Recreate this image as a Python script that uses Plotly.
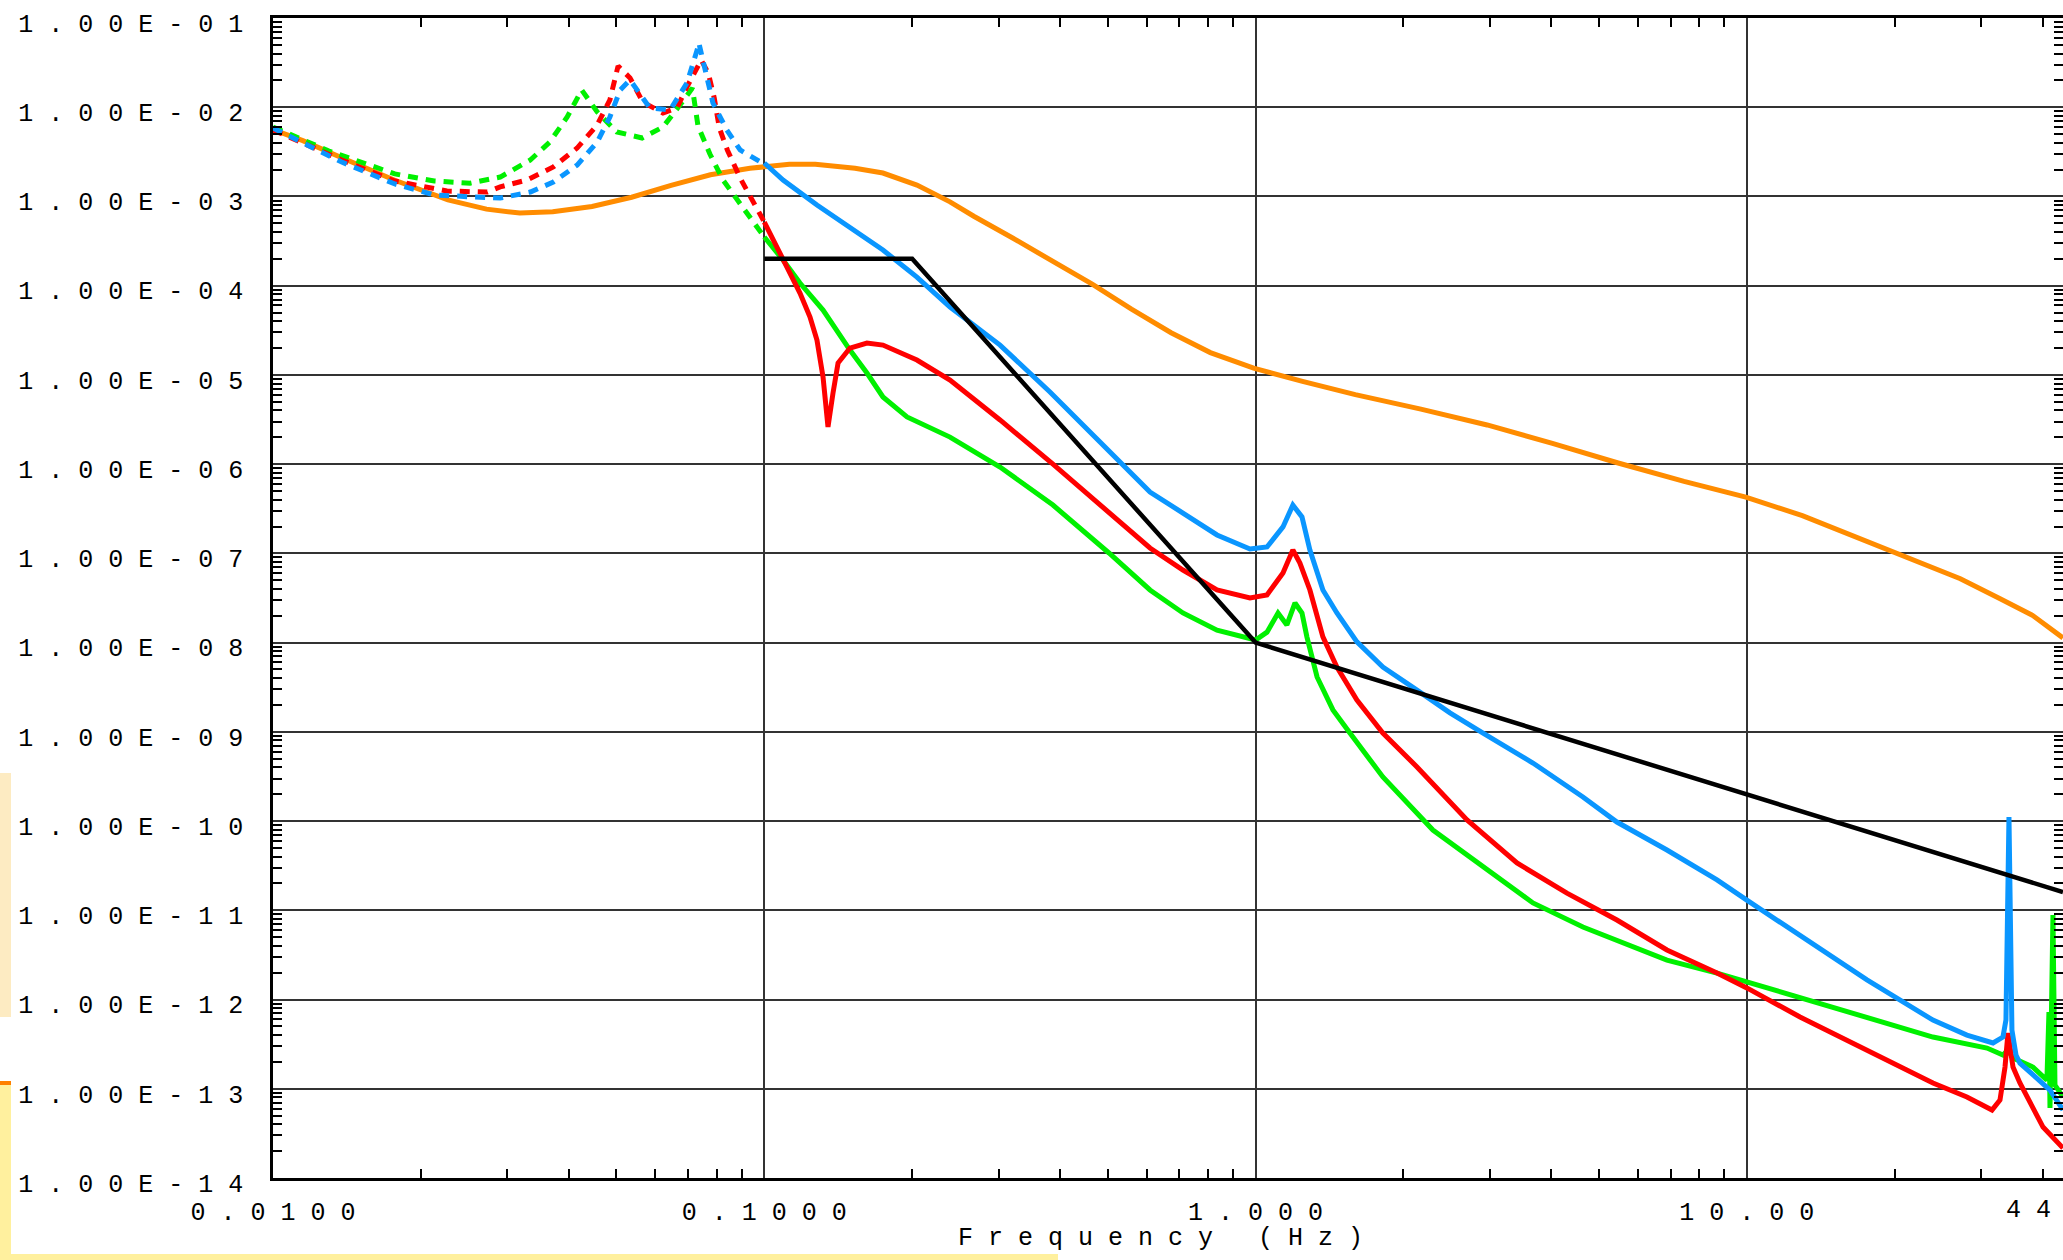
import plotly.graph_objects as go

# ---------------- data ----------------
orange_freq = [0.01, 0.0115, 0.0138, 0.0177, 0.0227, 0.0272, 0.0318, 0.0371, 0.0446, 0.0537,
               0.0646, 0.0777, 0.0935, 0.1125, 0.127, 0.153, 0.1744, 0.2045, 0.2388, 0.267,
               0.321, 0.386, 0.465, 0.559, 0.673, 0.809, 0.991, 1.246, 1.596, 2.17,
               2.96, 4.02, 5.47, 7.45, 9.95, 12.97, 16.6, 21.2, 27.2, 32.7, 38.2, 44.0]
orange_amp = [5.6e-3, 4.22e-3, 2.71e-3, 1.52e-3, 9.14e-4, 7.21e-4, 6.51e-4, 6.74e-4, 7.73e-4, 9.8e-4,
              1.33e-3, 1.75e-3, 2.07e-3, 2.29e-3, 2.29e-3, 2.07e-3, 1.83e-3, 1.34e-3, 8.7e-4, 6.0e-4,
              3.4e-4, 1.9e-4, 1.04e-4, 5.47e-5, 2.97e-5, 1.78e-5, 1.19e-5, 8.45e-6, 6.02e-6, 4.14e-6,
              2.75e-6, 1.71e-6, 1.03e-6, 6.41e-7, 4.27e-7, 2.65e-7, 1.54e-7, 8.94e-8, 5.2e-8, 3.12e-8, 2.01e-8, 1.13e-8]

black_freq = [0.1, 0.2, 1.0, 44.0]
black_amp = [2.0e-4, 2.0e-4, 1.0e-8, 1.6e-11]

blue_low_freq = [0.01, 0.0138, 0.0177, 0.0213, 0.0257, 0.029, 0.0334, 0.0372, 0.0416, 0.0457,
                 0.0485, 0.0509, 0.0533, 0.0551, 0.0585, 0.0643, 0.0696, 0.073, 0.0736, 0.0764,
                 0.0786, 0.0839, 0.0893, 0.1]
blue_low_amp = [5.85e-3, 2.43e-3, 1.38e-3, 1.04e-3, 9.86e-4, 9.61e-4, 1.12e-3, 1.45e-3, 2.25e-3, 4.08e-3,
                7.77e-3, 1.56e-2, 2.02e-2, 1.56e-2, 9.8e-3, 9.31e-3, 1.87e-2, 4.38e-2, 5.25e-2, 2.18e-2,
                1.12e-2, 5.56e-3, 3.32e-3, 2.3e-3]

blue_high_freq = [0.1, 0.1092, 0.128, 0.1494, 0.1744, 0.2045, 0.2388, 0.3019, 0.3815, 0.4823,
                  0.6097, 0.7115, 0.8346, 0.9741, 1.055, 1.137, 1.191, 1.243, 1.29, 1.371,
                  1.464, 1.608, 1.816, 2.131, 2.487, 2.904, 3.669, 4.638, 5.439, 6.876,
                  8.695, 10.0, 12.83, 17.56, 23.92, 28.05, 31.7, 33.21, 33.68, 34.16,
                  34.64, 35.3, 35.96, 38.22, 41.4, 44.0]
blue_high_amp = [2.37e-3, 1.53e-3, 8.02e-4, 4.55e-4, 2.51e-4, 1.25e-4, 5.77e-5, 2.16e-5, 6.43e-6, 1.77e-6,
                 4.87e-7, 2.83e-7, 1.61e-7, 1.12e-7, 1.18e-7, 1.98e-7, 3.48e-7, 2.56e-7, 1.09e-7, 3.89e-8,
                 2.15e-8, 1.02e-8, 5.33e-9, 2.94e-9, 1.63e-9, 9.7e-10, 4.47e-10, 1.86e-10, 9.76e-11, 4.74e-11,
                 2.19e-11, 1.3e-11, 5.15e-12, 1.66e-12, 5.89e-13, 4.0e-13, 3.26e-13, 3.8e-13, 5.89e-13, 1.11e-10,
                 4.55e-13, 2.39e-13, 1.94e-13, 1.43e-13, 9.68e-14, 5.78e-14]

red_low_freq = [0.01, 0.0138, 0.0177, 0.0226, 0.0273, 0.029, 0.0329, 0.0372, 0.0416, 0.0457,
                0.0485, 0.0504, 0.0533, 0.0566, 0.0622, 0.0664, 0.0696, 0.0744, 0.0769, 0.0791,
                0.081, 0.0841, 0.0893, 0.094, 0.1]
red_low_amp = [5.56e-3, 2.56e-3, 1.49e-3, 1.15e-3, 1.12e-3, 1.28e-3, 1.53e-3, 2.14e-3, 3.49e-3, 6.32e-3,
               1.21e-2, 2.9e-2, 2.13e-2, 1.14e-2, 8.62e-3, 9.8e-3, 1.69e-2, 3.38e-2, 2.42e-2, 1.27e-2,
               5.85e-3, 3.32e-3, 1.61e-3, 9.61e-4, 5.17e-4]

red_high_freq = [0.1, 0.1061, 0.1128, 0.1182, 0.1239, 0.128, 0.1317, 0.1348, 0.138, 0.1413,
                 0.1494, 0.1618, 0.1744, 0.2045, 0.2388, 0.3019, 0.3869, 0.4823, 0.6097, 0.7115,
                 0.8346, 0.9741, 1.055, 1.137, 1.191, 1.231, 1.29, 1.371, 1.464, 1.608,
                 1.816, 2.131, 2.694, 3.405, 4.303, 5.439, 6.876, 8.695, 10.0, 12.83,
                 17.56, 23.92, 28.05, 31.55, 32.75, 33.53, 34.0, 34.81, 35.96, 38.22,
                 40.07, 44.0]
red_high_amp = [5.17e-4, 2.71e-4, 1.39e-4, 8.28e-5, 4.46e-5, 2.46e-5, 9.48e-6, 2.61e-6, 6.27e-6, 1.36e-5,
                2.0e-5, 2.28e-5, 2.16e-5, 1.47e-5, 8.77e-6, 3.13e-6, 1.0e-6, 3.48e-7, 1.15e-7, 6.51e-8,
                3.89e-8, 3.16e-8, 3.42e-8, 6.03e-8, 1.09e-7, 7.8e-8, 3.89e-8, 1.16e-8, 5.33e-9, 2.27e-9,
                9.7e-10, 4.04e-10, 1.03e-10, 3.39e-11, 1.56e-11, 7.78e-12, 3.59e-12, 1.98e-12, 1.35e-12, 6.37e-13,
                2.72e-13, 1.16e-13, 8.08e-14, 5.78e-14, 7.48e-14, 1.75e-13, 4.21e-13, 1.75e-13, 1.16e-13, 6.24e-14,
                3.72e-14, 2.17e-14]

green_low_freq = [0.01, 0.013, 0.0177, 0.0213, 0.0252, 0.029, 0.0334, 0.0366, 0.0397, 0.0425,
                  0.0457, 0.0501, 0.0564, 0.0622, 0.0671, 0.0714, 0.0733, 0.0775, 0.0824, 0.088,
                  0.0944, 0.1]
green_low_amp = [6.0e-3, 3.23e-3, 1.79e-3, 1.49e-3, 1.41e-3, 1.65e-3, 2.56e-3, 4.08e-3, 7.77e-3, 1.56e-2,
                 8.84e-3, 5.28e-3, 4.52e-3, 6.0e-3, 1.03e-2, 1.64e-2, 6.16e-3, 2.99e-3, 1.53e-3, 9.36e-4,
                 5.45e-4, 3.51e-4]

green_high_freq = [0.1, 0.1092, 0.1182, 0.1317, 0.1494, 0.1618, 0.1744, 0.1952, 0.2388, 0.3019,
                   0.3869, 0.503, 0.6097, 0.7115, 0.8346, 0.9605, 1.0, 1.055, 1.111, 1.158,
                   1.203, 1.243, 1.272, 1.334, 1.437, 1.556, 1.816, 2.296, 2.904, 3.669,
                   4.638, 5.865, 6.876, 8.695, 10.0, 12.83, 17.56, 23.92, 30.82, 33.21,
                   34.0, 34.81, 38.22, 40.81, 41.2, 41.4, 41.98, 42.38, 44.0]
green_high_amp = [3.51e-4, 1.94e-4, 1.07e-4, 5.34e-5, 1.9e-5, 1.05e-5, 5.66e-6, 3.38e-6, 2.01e-6, 9.29e-7,
                  3.48e-7, 1.01e-7, 3.89e-8, 2.15e-8, 1.38e-8, 1.13e-8, 1.07e-8, 1.31e-8, 2.15e-8, 1.58e-8,
                  2.78e-8, 2.15e-8, 1.16e-8, 4.12e-9, 1.76e-9, 9.7e-10, 3.12e-10, 7.94e-11, 3.06e-11, 1.21e-11,
                  6.5e-12, 3.88e-12, 2.77e-12, 1.98e-12, 1.57e-12, 1.04e-12, 6.37e-13, 3.8e-13, 2.86e-13, 2.39e-13,
                  2.72e-13, 2.21e-13, 1.75e-13, 1.25e-13, 7.25e-13, 6.08e-14, 8.86e-12, 1.1e-13, 8.08e-14]

x_tick_vals = [0.01, 0.1, 1.0, 10.0]
x_tick_labels = ["0 . 0 1 0 0", "0 . 1 0 0 0", "1 . 0 0 0", "1 0 . 0 0"]
x_end_label = "4 4 . 0 0"          # label at the right end of the axis (44 Hz)
y_tick_vals = [1e-1, 1e-2, 1e-3, 1e-4, 1e-5, 1e-6, 1e-7, 1e-8, 1e-9, 1e-10, 1e-11, 1e-12, 1e-13, 1e-14]
y_tick_labels = ["1 . 0 0 E - 0 1", "1 . 0 0 E - 0 2", "1 . 0 0 E - 0 3", "1 . 0 0 E - 0 4",
                 "1 . 0 0 E - 0 5", "1 . 0 0 E - 0 6", "1 . 0 0 E - 0 7", "1 . 0 0 E - 0 8",
                 "1 . 0 0 E - 0 9", "1 . 0 0 E - 1 0", "1 . 0 0 E - 1 1", "1 . 0 0 E - 1 2",
                 "1 . 0 0 E - 1 3", "1 . 0 0 E - 1 4"]
x_title = "F r e q u e n c y   ( H z )"

# ---------------- styling ----------------
W, H = 2063, 1260
ML, MR, MT, MB = 273, 0, 18, 82
FONT = "Liberation Mono, DejaVu Sans Mono, monospace"
ORANGE, BLUE, RED, GREEN, BLACK = "#FF8C00", "#0A96FF", "#FF0000", "#00F000", "#000000"
LW = 5
DASH = "10px,8px"

x_minor = [k * 10.0 ** e for e in (-2, -1, 0, 1) for k in range(2, 10) if k * 10.0 ** e < 44]
y_minor = [k * 10.0 ** e for e in range(-14, -1) for k in range(2, 10)]

fig = go.Figure()


def add(freq, amp, color, dash=None, width=LW):
    fig.add_trace(go.Scatter(x=freq, y=amp, mode="lines",
                             line=dict(color=color, width=width, dash=dash),
                             hoverinfo="skip", showlegend=False))


add(orange_freq, orange_amp, ORANGE)
add(green_low_freq, green_low_amp, GREEN, DASH)
add(red_low_freq, red_low_amp, RED, DASH)
add(blue_low_freq, blue_low_amp, BLUE, DASH)
add(green_high_freq, green_high_amp, GREEN)
add(red_high_freq, red_high_amp, RED)
add(blue_high_freq, blue_high_amp, BLUE)
add(black_freq, black_amp, BLACK, width=4.5)

axis_common = dict(
    type="log", showgrid=True, gridcolor="#333333", gridwidth=2,
    showline=True, linecolor="black", linewidth=2.5, mirror="allticks",
    ticks="", zeroline=False, automargin=False,
    tickfont=dict(family=FONT, size=25, color="black"),
    tickmode="array",
)

fig.update_xaxes(**axis_common, range=[-2, 1.6435], tickvals=x_tick_vals, ticktext=x_tick_labels,
                 ticklabelstandoff=9,
                 minor=dict(tickmode="array", tickvals=x_minor, ticks="inside", ticklen=9,
                            tickwidth=2, tickcolor="black", showgrid=False))
fig.update_yaxes(**axis_common, range=[-14, -1], tickvals=y_tick_vals, ticktext=y_tick_labels,
                 ticklabelstandoff=22, ticklabelshift=5,
                 minor=dict(tickmode="array", tickvals=y_minor, ticks="inside", ticklen=9,
                            tickwidth=2, tickcolor="black", showgrid=False))

pw, ph = W - ML - MR, H - MT - MB


def px(x):
    return (x - ML) / pw


def py(y):
    return (H - MB - y) / ph


fig.add_annotation(text=x_end_label, x=px(2073), y=py(1210), xref="paper", yref="paper",
                   showarrow=False, xanchor="center", yanchor="middle",
                   font=dict(family=FONT, size=25, color="black"))
fig.add_annotation(text=x_title, x=px(1160), y=py(1238), xref="paper", yref="paper",
                   showarrow=False, xanchor="center", yanchor="middle",
                   font=dict(family=FONT, size=25, color="black"))

# screenshot edge artefacts
shapes = [
    dict(x0=0, x1=11, y0=773, y1=1017, color="#FDEBC2"),
    dict(x0=0, x1=11, y0=1081, y1=1085, color="#FF8000"),
    dict(x0=0, x1=11, y0=1085, y1=1258, color="#FFF09E"),
    dict(x0=0, x1=1058, y0=1254, y1=1260, color="#FFF09E"),
]
for s in shapes:
    fig.add_shape(type="rect", xref="paper", yref="paper", x0=px(s["x0"]), x1=px(s["x1"]),
                  y0=py(s["y1"]), y1=py(s["y0"]), fillcolor=s["color"], line=dict(width=0),
                  layer="above")

fig.update_layout(width=W, height=H, margin=dict(l=ML, r=MR, t=MT, b=MB, pad=0),
                  paper_bgcolor="white", plot_bgcolor="white", showlegend=False,
                  template="none")

fig.write_html("out.html")
